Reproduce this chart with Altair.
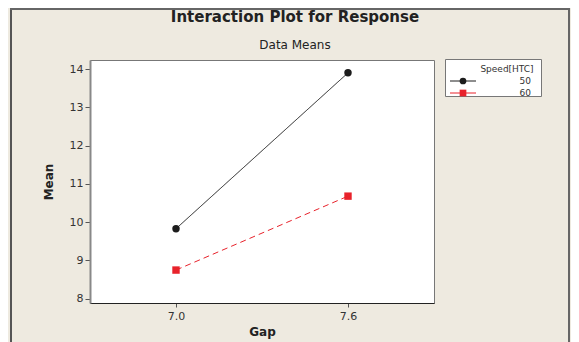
import altair as alt
import pandas as pd

gap_levels = ["7.0", "7.6"]
speed_levels = ["50", "60"]
mean_50 = [9.83, 13.90]
mean_60 = [8.75, 10.68]
y_ticks = [8, 9, 10, 11, 12, 13, 14]
series_colors = ["#1c1c1c", "#e8222b"]
series_shapes = ["circle", "square"]
series_dash = [[1, 0], [6, 4]]

rows = []
for sp, vals in zip(speed_levels, [mean_50, mean_60]):
    for g, v in zip(gap_levels, vals):
        rows.append({"Gap": g, "Speed": sp, "Mean": v})
df = pd.DataFrame(rows)

FONT = "DejaVu Sans"
BG = "#eeeae0"

xenc = alt.X("Gap:O", scale=alt.Scale(type="point", padding=0.5, domain=gap_levels),
             axis=alt.Axis(title="Gap", labelAngle=0, tickSize=4, labelPadding=3,
                           titlePadding=5, domainColor="#222", tickColor="#555"))
yenc = alt.Y("Mean:Q", scale=alt.Scale(domain=[7.89, 14.235], nice=False, zero=False),
             axis=alt.Axis(title="Mean", values=y_ticks, tickSize=5, labelPadding=2,
                           titlePadding=14, domainColor="#888", domainWidth=2,
                           tickColor="#555", grid=False))
color = alt.Color("Speed:N", scale=alt.Scale(domain=speed_levels, range=series_colors), legend=None)
shape = alt.Shape("Speed:N", scale=alt.Scale(domain=speed_levels, range=series_shapes), legend=None)
dash = alt.StrokeDash("Speed:N", scale=alt.Scale(domain=speed_levels, range=series_dash), legend=None)

base = alt.Chart(df)
lines = base.mark_line(strokeWidth=1).encode(x=xenc, y=yenc, color=color, strokeDash=dash, detail="Speed:N")
points = base.mark_point(filled=True, size=55, opacity=1).encode(x=xenc, y=yenc, color=color, shape=shape)

one = pd.DataFrame({"k": [0]})

title = alt.Chart(pd.DataFrame({"t": ["Interaction Plot for Response"]})).mark_text(
    font=FONT, fontSize=15, fontWeight="bold", color="#222", align="center", baseline="middle"
).encode(x=alt.value(205), y=alt.value(-43), text="t:N")
subtitle = alt.Chart(pd.DataFrame({"t": ["Data Means"]})).mark_text(
    font=FONT, fontSize=12, color="#222", align="center", baseline="middle"
).encode(x=alt.value(205), y=alt.value(-15), text="t:N")

frame_left = alt.Chart(one).mark_rule(color="#555", strokeWidth=2).encode(
    x=alt.value(-79), y=alt.value(-52), y2=alt.value(300))
frame_right = alt.Chart(one).mark_rule(color="#666", strokeWidth=2).encode(
    x=alt.value(479), y=alt.value(-52), y2=alt.value(300))
frame_top = alt.Chart(one).mark_rule(color="#666", strokeWidth=2).encode(
    x=alt.value(-80), x2=alt.value(480), y=alt.value(-51))

leg_box = alt.Chart(one).mark_rect(fill="white", stroke="#777", strokeWidth=1).encode(
    x=alt.value(355.5), x2=alt.value(451.5), y=alt.value(-0.5), y2=alt.value(36.5))
leg_title = alt.Chart(pd.DataFrame({"t": ["Speed[HTC]"]})).mark_text(
    font=FONT, fontSize=9, color="#333", align="center", baseline="middle"
).encode(x=alt.value(417), y=alt.value(9), text="t:N")

leg_layers = []
for i, sp in enumerate(speed_levels):
    yy = 21 + i * 12
    d = pd.DataFrame({"Speed": [sp]})
    leg_layers.append(alt.Chart(d).mark_rule(color=series_colors[i], strokeWidth=1).encode(
        x=alt.value(360), x2=alt.value(386), y=alt.value(yy)))
    leg_layers.append(alt.Chart(d).mark_point(filled=True, size=45, opacity=1,
                                              color=series_colors[i], shape=series_shapes[i]).encode(
        x=alt.value(373), y=alt.value(yy)))
    leg_layers.append(alt.Chart(d).mark_text(font=FONT, fontSize=9, color="#333", align="right",
                                             baseline="middle").encode(
        x=alt.value(441), y=alt.value(yy), text="Speed:N"))

chart = alt.layer(
    frame_left, frame_right, frame_top, title, subtitle, lines, points, leg_box, leg_title, *leg_layers
).properties(
    width=344, height=243,
    autosize=alt.AutoSizeParams(type="none"),
    padding={"left": 82, "top": 52, "right": 137, "bottom": 39},
    background=BG,
).configure_view(
    fill="white", stroke="#777", strokeWidth=1
).configure_axis(
    labelFont=FONT, titleFont=FONT, labelFontSize=11, titleFontSize=12,
    labelColor="#333", titleColor="#222", titleFontWeight="bold"
)

chart.save("out.html", embed_options={"renderer": "svg", "actions": False})
